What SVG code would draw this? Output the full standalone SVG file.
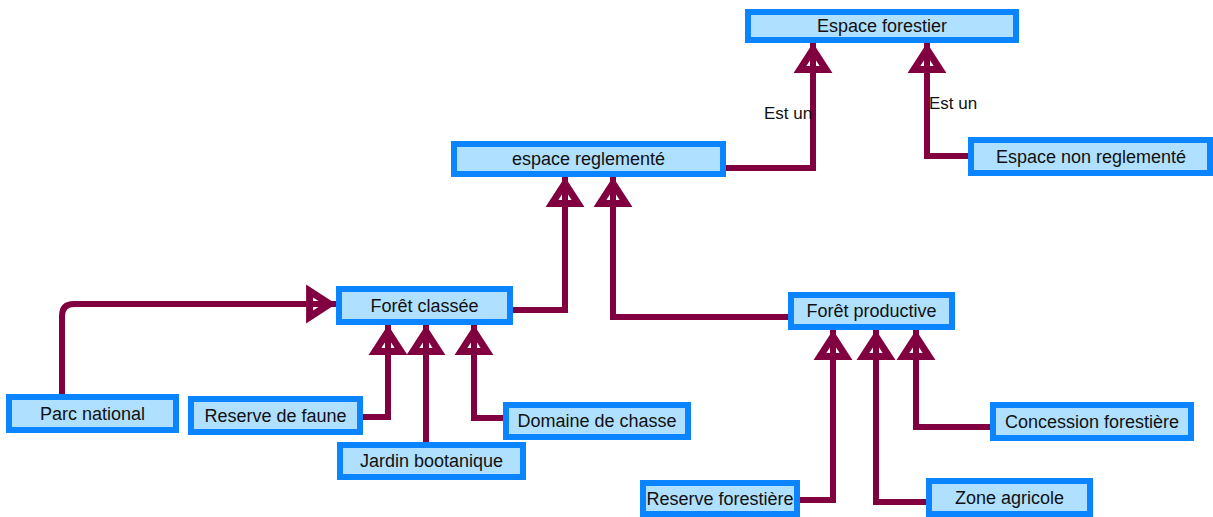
<svg xmlns="http://www.w3.org/2000/svg" width="1213" height="517" viewBox="0 0 1213 517">
<style>
.box{fill:#b0e0ff;stroke:#0a84ff;stroke-width:6}
.lbl{font-family:"Liberation Sans",Arial,sans-serif;font-size:18px;fill:#111;text-anchor:middle}
.edge{fill:none;stroke:#800040;stroke-width:6;marker-end:url(#tri)}
.elbl{font-family:"Liberation Sans",Arial,sans-serif;font-size:17px;fill:#111}
</style>
<defs>
<marker id="tri" markerUnits="userSpaceOnUse" viewBox="-40 -25 50 50" markerWidth="50" markerHeight="50" refX="6.4" refY="0" orient="auto" overflow="visible">
<path d="M0,0 L-20,-13 L-20,13 Z" fill="none" stroke="#800040" stroke-width="7"/>
</marker>
</defs>
<rect width="1213" height="517" fill="#fff"/>
<g id="connectors">
<path class="edge" d="M726,168 H813 V43"/>
<path class="edge" d="M968,156 H927 V43"/>
<path class="edge" d="M513,310 H565 V177"/>
<path class="edge" d="M788,317 H613 V177"/>
<path class="edge" d="M62,394 V316 Q62,304 74,304 H336"/>
<path class="edge" d="M363,417 H388 V325"/>
<path class="edge" d="M426,442 V325"/>
<path class="edge" d="M503,418 H474 V325"/>
<path class="edge" d="M800,500 H833 V330"/>
<path class="edge" d="M926,502 H876 V330"/>
<path class="edge" d="M990,427 H916 V330"/>
<text class="elbl" x="764" y="119">Est un</text>
<text class="elbl" x="929" y="109">Est un</text>
</g>
<g id="espace-forestier"><rect class="box" x="748" y="12" width="268" height="28"/><text class="lbl" x="882" y="32">Espace forestier</text></g>
<g id="espace-reglemente"><rect class="box" x="454" y="144" width="269" height="30"/><text class="lbl" x="588.5" y="165">espace reglementé</text></g>
<g id="espace-non-reglemente"><rect class="box" x="971" y="140" width="239" height="33"/><text class="lbl" x="1091" y="163">Espace non reglementé</text></g>
<g id="foret-classee"><rect class="box" x="339" y="289" width="171" height="33"/><text class="lbl" x="424.5" y="312">Forêt classée</text></g>
<g id="foret-productive"><rect class="box" x="791" y="295" width="161" height="32"/><text class="lbl" x="871.5" y="317">Forêt productive</text></g>
<g id="parc-national"><rect class="box" x="9" y="397" width="167" height="33"/><text class="lbl" x="92.5" y="420">Parc national</text></g>
<g id="reserve-faune"><rect class="box" x="191" y="399" width="169" height="33"/><text class="lbl" x="275.5" y="422">Reserve de faune</text></g>
<g id="jardin-bootanique"><rect class="box" x="340" y="445" width="183" height="32"/><text class="lbl" x="431.5" y="467">Jardin bootanique</text></g>
<g id="domaine-chasse"><rect class="box" x="506" y="405" width="182" height="32"/><text class="lbl" x="597" y="427">Domaine de chasse</text></g>
<g id="concession-forestiere"><rect class="box" x="993" y="405" width="198" height="33"/><text class="lbl" x="1092" y="428">Concession forestière</text></g>
<g id="zone-agricole"><rect class="box" x="929" y="481" width="161" height="33"/><text class="lbl" x="1009.5" y="504">Zone agricole</text></g>
<g id="reserve-forestiere"><rect class="box" x="643" y="483" width="154" height="31"/><text class="lbl" x="720" y="505">Reserve forestière</text></g>
</svg>
